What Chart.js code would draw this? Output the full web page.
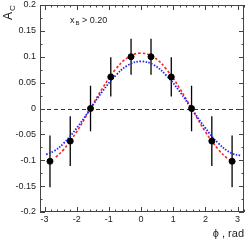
<!DOCTYPE html>
<html>
<head>
<meta charset="utf-8">
<script src="https://cdn.jsdelivr.net/npm/chart.js@4/dist/chart.umd.min.js"></script>
<style>
  html, body { margin: 0; padding: 0; background: #fff; }
  #wrap { width: 249px; height: 240px; position: relative; }
</style>
</head>
<body>
<div id="wrap"><canvas id="chart"></canvas></div>
<script>
// measured points (phi bin centres, asymmetry, stat. error)
const phiBins = [-2.83, -2.2, -1.57, -0.94, -0.31, 0.31, 0.94, 1.57, 2.2, 2.83];
const asymVals = [-0.102, -0.063, 0.0, 0.061, 0.100, 0.100, 0.061, 0.0, -0.063, -0.102];
const asymErrs = [0.050, 0.048, 0.044, 0.038, 0.035, 0.035, 0.038, 0.044, 0.048, 0.050];

// red dashed curve
const redPhi = [-2.65, -2.4, -2.0, -1.6, -1.2, -0.8, -0.4, 0, 0.4, 0.8, 1.2, 1.6, 2.0, 2.4, 2.7, 2.93];
const redVals = [-0.094, -0.079, -0.045, -0.003, 0.039, 0.075, 0.099, 0.107, 0.099, 0.075, 0.039, -0.003, -0.045, -0.079, -0.097, -0.104];

// blue dotted curve
const bluePhi = [-2.95, -2.7, -2.4, -2.0, -1.6, -1.2, -0.8, -0.4, 0, 0.4, 0.8, 1.2, 1.6, 2.0, 2.4, 2.8, 3.11];
const blueVals = [-0.089, -0.082, -0.067, -0.038, -0.003, 0.033, 0.063, 0.084, 0.091, 0.084, 0.063, 0.033, -0.003, -0.038, -0.067, -0.086, -0.091];

// axes
const xMajor = [-3, -2, -1, 0, 1, 2, 3];
const yMajor = [0.2, 0.15, 0.1, 0.05, 0, -0.05, -0.1, -0.15, -0.2];
const yLabels = ["0.2", "0.15", "0.1", "0.05", "0", "-0.05", "-0.1", "-0.15", "-0.2"];
const X_MIN = -3.14, X_MAX = 3.2, Y_MIN = -0.2, Y_MAX = 0.2;

const FONT = "'Liberation Sans', Arial, sans-serif";

/* =======================
   FRAME / TICKS / TEXT
======================= */
const framePlugin = {
  id: "frame",
  beforeDatasetsDraw(chart) {
    const { ctx, chartArea: a, scales: { x, y } } = chart;
    ctx.save();
    // zero line
    ctx.strokeStyle = "#333";
    ctx.lineWidth = 1;
    ctx.setLineDash([4, 3]);
    const y0 = Math.round(y.getPixelForValue(0)) + 0.5;
    ctx.beginPath();
    ctx.moveTo(a.left, y0);
    ctx.lineTo(a.right, y0);
    ctx.stroke();
    ctx.setLineDash([]);
    // error bars
    ctx.strokeStyle = "#000";
    ctx.lineWidth = 1.3;
    phiBins.forEach((p, i) => {
      const px = x.getPixelForValue(p);
      ctx.beginPath();
      ctx.moveTo(px, y.getPixelForValue(asymVals[i] + asymErrs[i]));
      ctx.lineTo(px, y.getPixelForValue(asymVals[i] - asymErrs[i]));
      ctx.stroke();
    });
    ctx.restore();
  },
  afterDraw(chart) {
    const { ctx, chartArea: a, scales: { x, y } } = chart;
    ctx.save();
    ctx.strokeStyle = "#444";
    ctx.lineWidth = 1;
    ctx.strokeRect(a.left + 0.5, a.top + 0.5, a.right - a.left - 1, a.bottom - a.top - 1);

    // x ticks (inward, bottom and top), minor every 0.2
    ctx.beginPath();
    for (let k = -16; k <= 16; k++) {
      const v = k * 0.2;
      if (v < X_MIN || v > X_MAX) continue;
      const px = Math.round(x.getPixelForValue(v)) + 0.5;
      const len = k % 5 === 0 ? 5 : 2.5;
      ctx.moveTo(px, a.bottom); ctx.lineTo(px, a.bottom - len);
      ctx.moveTo(px, a.top); ctx.lineTo(px, a.top + len);
    }
    // y ticks, minor every 0.025
    for (let k = -8; k <= 8; k++) {
      const py = Math.round(y.getPixelForValue(k * 0.025)) + 0.5;
      const len = k % 2 === 0 ? 5 : 2.5;
      ctx.moveTo(a.left, py); ctx.lineTo(a.left + len, py);
      ctx.moveTo(a.right, py); ctx.lineTo(a.right - len, py);
    }
    ctx.stroke();

    // tick labels
    ctx.fillStyle = "#222";
    ctx.font = "9px " + FONT;
    ctx.textAlign = "right";
    ctx.textBaseline = "middle";
    yMajor.forEach((v, i) => ctx.fillText(yLabels[i], a.left - 4, y.getPixelForValue(v)));
    ctx.textAlign = "center";
    ctx.textBaseline = "top";
    xMajor.forEach(v => ctx.fillText(String(v), x.getPixelForValue(v), a.bottom + 3));

    // axis titles
    ctx.font = "11px " + FONT;
    ctx.textAlign = "right";
    ctx.textBaseline = "alphabetic";
    ctx.fillText("ϕ , rad", a.right, 237);

    ctx.save();
    ctx.translate(12, 20);
    ctx.rotate(-Math.PI / 2);
    ctx.textAlign = "left";
    ctx.font = "12px " + FONT;
    ctx.fillText("A", 0, 0);
    ctx.font = "8px " + FONT;
    ctx.fillText("C", 9, 3);
    ctx.restore();

    // cut label
    ctx.textAlign = "left";
    ctx.font = "9px " + FONT;
    ctx.fillText("x", 70, 23);
    ctx.font = "6px " + FONT;
    ctx.fillText("B", 75.5, 25);
    ctx.font = "9px " + FONT;
    ctx.fillText("> 0.20", 82, 23);
    ctx.restore();
  }
};

/* =======================
   CHART
======================= */
new Chart(document.getElementById("chart"), {
  type: "scatter",
  data: {
    datasets: [
      {
        data: phiBins.map((p, i) => ({ x: p, y: asymVals[i] })),
        backgroundColor: "#000",
        borderColor: "#000",
        pointRadius: 3,
        order: 0
      },
      {
        data: redPhi.map((p, i) => ({ x: p, y: redVals[i] })),
        showLine: true,
        borderColor: "#ff2020",
        borderWidth: 1.6,
        borderDash: [2.5, 2],
        tension: 0.4,
        pointRadius: 0,
        order: 2
      },
      {
        data: bluePhi.map((p, i) => ({ x: p, y: blueVals[i] })),
        showLine: true,
        borderColor: "#2020ff",
        borderWidth: 1.8,
        borderDash: [1.5, 1.5],
        tension: 0.4,
        pointRadius: 0,
        order: 1
      }
    ]
  },
  options: {
    responsive: true,
    maintainAspectRatio: false,
    animation: false,
    layout: { padding: { left: 40, right: 2, top: 4, bottom: 28 } },
    scales: {
      x: { type: "linear", min: X_MIN, max: X_MAX, display: false },
      y: { type: "linear", min: Y_MIN, max: Y_MAX, display: false }
    },
    plugins: { legend: { display: false }, tooltip: { enabled: false } }
  },
  plugins: [framePlugin]
});
</script>
</body>
</html>
